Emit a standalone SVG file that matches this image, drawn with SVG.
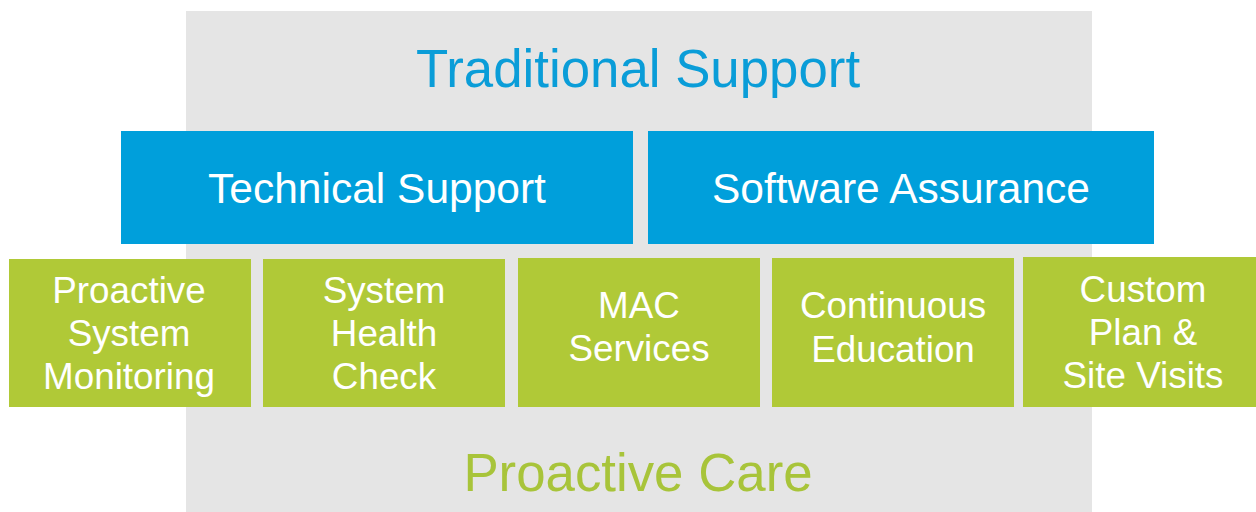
<svg xmlns="http://www.w3.org/2000/svg" width="1256" height="512" viewBox="0 0 1256 512">
<style>
text{font-family:"Liberation Sans",Arial,sans-serif;text-anchor:middle}
.bg{fill:#e5e5e5}
.blue{fill:#009fdb}
.green{fill:#b0c937}
.bt{fill:#ffffff;font-size:42.5px}
.gt{fill:#ffffff;font-size:36.8px}
.title{font-size:52.8px}
</style>
<rect width="1256" height="512" fill="#ffffff"/>
<g id="frame">
<rect class="bg" x="186" y="11" width="906" height="501"/>
<text class="title" x="638" y="87" fill="#0a9dd8">Traditional Support</text>
<text class="title" x="638" y="491" fill="#a8c43a">Proactive Care</text>
</g>
<g id="technical-support">
<rect class="blue" x="121" y="131" width="512" height="113"/>
<text class="bt" x="377" y="203">Technical Support</text>
</g>
<g id="software-assurance">
<rect class="blue" x="648" y="131" width="506" height="113"/>
<text class="bt" x="901" y="203">Software Assurance</text>
</g>
<g id="proactive-system-monitoring">
<rect class="green" x="9" y="259" width="242" height="148"/>
<text class="gt" x="129" y="303">Proactive</text>
<text class="gt" x="129" y="346">System</text>
<text class="gt" x="129" y="389">Monitoring</text>
</g>
<g id="system-health-check">
<rect class="green" x="263" y="259" width="242" height="148"/>
<text class="gt" x="384" y="303">System</text>
<text class="gt" x="384" y="346">Health</text>
<text class="gt" x="384" y="389">Check</text>
</g>
<g id="mac-services">
<rect class="green" x="518" y="258" width="242" height="149"/>
<text class="gt" x="639" y="318">MAC</text>
<text class="gt" x="639" y="361">Services</text>
</g>
<g id="continuous-education">
<rect class="green" x="772" y="258" width="242" height="149"/>
<text class="gt" x="893" y="318">Continuous</text>
<text class="gt" x="893" y="362">Education</text>
</g>
<g id="custom-plan">
<rect class="green" x="1023" y="257" width="233" height="150"/>
<text class="gt" x="1143" y="302">Custom</text>
<text class="gt" x="1143" y="345">Plan &amp;</text>
<text class="gt" x="1143" y="388">Site Visits</text>
</g>
<g id="connectors"/>
</svg>
